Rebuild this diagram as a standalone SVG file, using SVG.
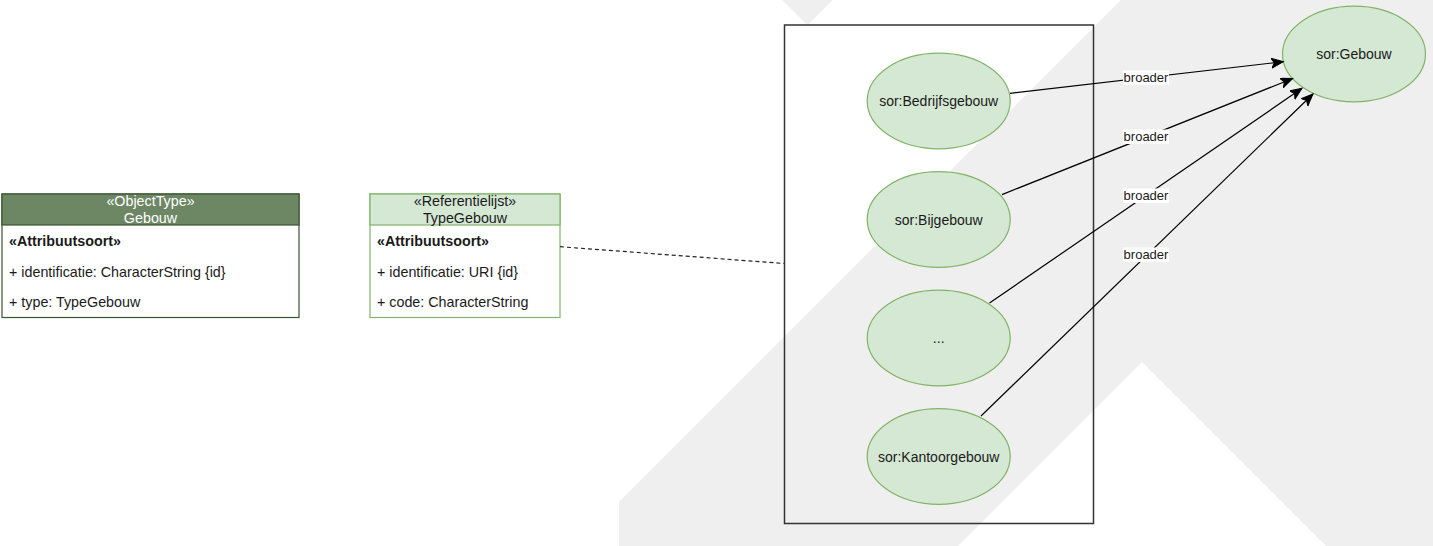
<svg xmlns="http://www.w3.org/2000/svg" width="1433" height="546" viewBox="0 0 1433 546">
<style>
text{font-family:"Liberation Sans",Arial,sans-serif;font-size:14px;fill:#1a1a1a}
.cls{font-size:14.3px}
.c{text-anchor:middle}
.b{font-weight:bold}
.w{fill:#ffffff}
.lbl{font-size:13px;text-anchor:middle}
.ell{fill:#d5e8d4;stroke:#82b366;stroke-width:1.2}
.edge{fill:none;stroke:#000000;stroke-width:1.2}
.lblbg{fill:#ffffff}
</style>
<defs>
<marker id="arr" markerUnits="userSpaceOnUse" markerWidth="14" markerHeight="12" viewBox="0 0 14 12" refX="12" refY="5" orient="auto">
<path d="M0,0 L12,5 L0,10 L3,5 z" fill="#000000" stroke="#000000" stroke-width="1"/>
</marker>
</defs>
<rect x="0" y="0" width="1433" height="546" fill="#ffffff"/>
<g id="background">
<polygon points="1121,0 1433,0 1433,546 1326,546 1142,362 958,546 619,546 619,502" fill="#efefef"/>
<polygon points="782,0 833,0 807.5,25" fill="#efefef"/>
</g>
<g id="gebouw-class" class="cls">
<rect x="2" y="194" width="297" height="123.5" fill="#ffffff" stroke="#3a5431" stroke-width="1.2"/>
<rect x="2" y="194" width="297" height="31" fill="#6d8764" stroke="#3a5431" stroke-width="1.2"/>
<text class="cls c w" x="150.5" y="206">«ObjectType»</text>
<text class="cls c w" x="150.5" y="222.5">Gebouw</text>
<text class="cls b" x="9" y="246">«Attribuutsoort»</text>
<text class="cls" x="9" y="276.5">+ identificatie: CharacterString {id}</text>
<text class="cls" x="9" y="306.5">+ type: TypeGebouw</text>
</g>
<g id="typegebouw-class">
<rect x="370" y="194" width="190" height="123.5" fill="#ffffff" stroke="#82b366" stroke-width="1.2"/>
<rect x="370" y="194" width="190" height="31" fill="#d5e8d4" stroke="#82b366" stroke-width="1.2"/>
<text class="cls c" x="465" y="206">«Referentielijst»</text>
<text class="cls c" x="465" y="222.5">TypeGebouw</text>
<text class="cls b" x="377" y="246">«Attribuutsoort»</text>
<text class="cls" x="377" y="276.5">+ identificatie: URI {id}</text>
<text class="cls" x="377" y="306.5">+ code: CharacterString</text>
</g>
<g id="container">
<rect x="784.5" y="25" width="309" height="498.5" fill="none" stroke="#333333" stroke-width="1.5"/>
</g>
<g id="bedrijfsgebouw">
<ellipse class="ell" cx="938.7" cy="101" rx="71.5" ry="47.8"/>
<text class="c" x="938.7" y="106">sor:Bedrijfsgebouw</text>
</g>
<g id="bijgebouw">
<ellipse class="ell" cx="938.7" cy="219.5" rx="71.5" ry="47.8"/>
<text class="c" x="938.7" y="224.5">sor:Bijgebouw</text>
</g>
<g id="overig">
<ellipse class="ell" cx="938.7" cy="338" rx="71.5" ry="47.8"/>
<text class="c" x="938.7" y="343">...</text>
</g>
<g id="kantoorgebouw">
<ellipse class="ell" cx="938.7" cy="456.5" rx="71.5" ry="47.8"/>
<text class="c" x="938.7" y="461.5">sor:Kantoorgebouw</text>
</g>
<g id="gebouw-concept">
<ellipse class="ell" cx="1354" cy="54" rx="71.5" ry="47.8"/>
<text class="c" x="1354" y="59">sor:Gebouw</text>
</g>
<g id="connectors">
<line x1="560" y1="246.7" x2="784" y2="263.5" stroke="#222222" stroke-width="1.2" stroke-dasharray="4 3"/>
<line class="edge" x1="1010" y1="93.3" x2="1283.3" y2="61.7" marker-end="url(#arr)"/>
<line class="edge" x1="1002" y1="194.6" x2="1292.7" y2="78.5" marker-end="url(#arr)"/>
<line class="edge" x1="989.5" y1="303" x2="1302" y2="88.3" marker-end="url(#arr)"/>
<line class="edge" x1="981" y1="416" x2="1313" y2="94" marker-end="url(#arr)"/>
<rect class="lblbg" x="1123" y="70.5" width="46" height="14.5"/>
<text class="lbl" x="1146" y="82">broader</text>
<rect class="lblbg" x="1123" y="129.5" width="46" height="14.5"/>
<text class="lbl" x="1146" y="141">broader</text>
<rect class="lblbg" x="1123" y="188.5" width="46" height="14.5"/>
<text class="lbl" x="1146" y="200">broader</text>
<rect class="lblbg" x="1123" y="247.5" width="46" height="14.5"/>
<text class="lbl" x="1146" y="259">broader</text>
</g>
</svg>
